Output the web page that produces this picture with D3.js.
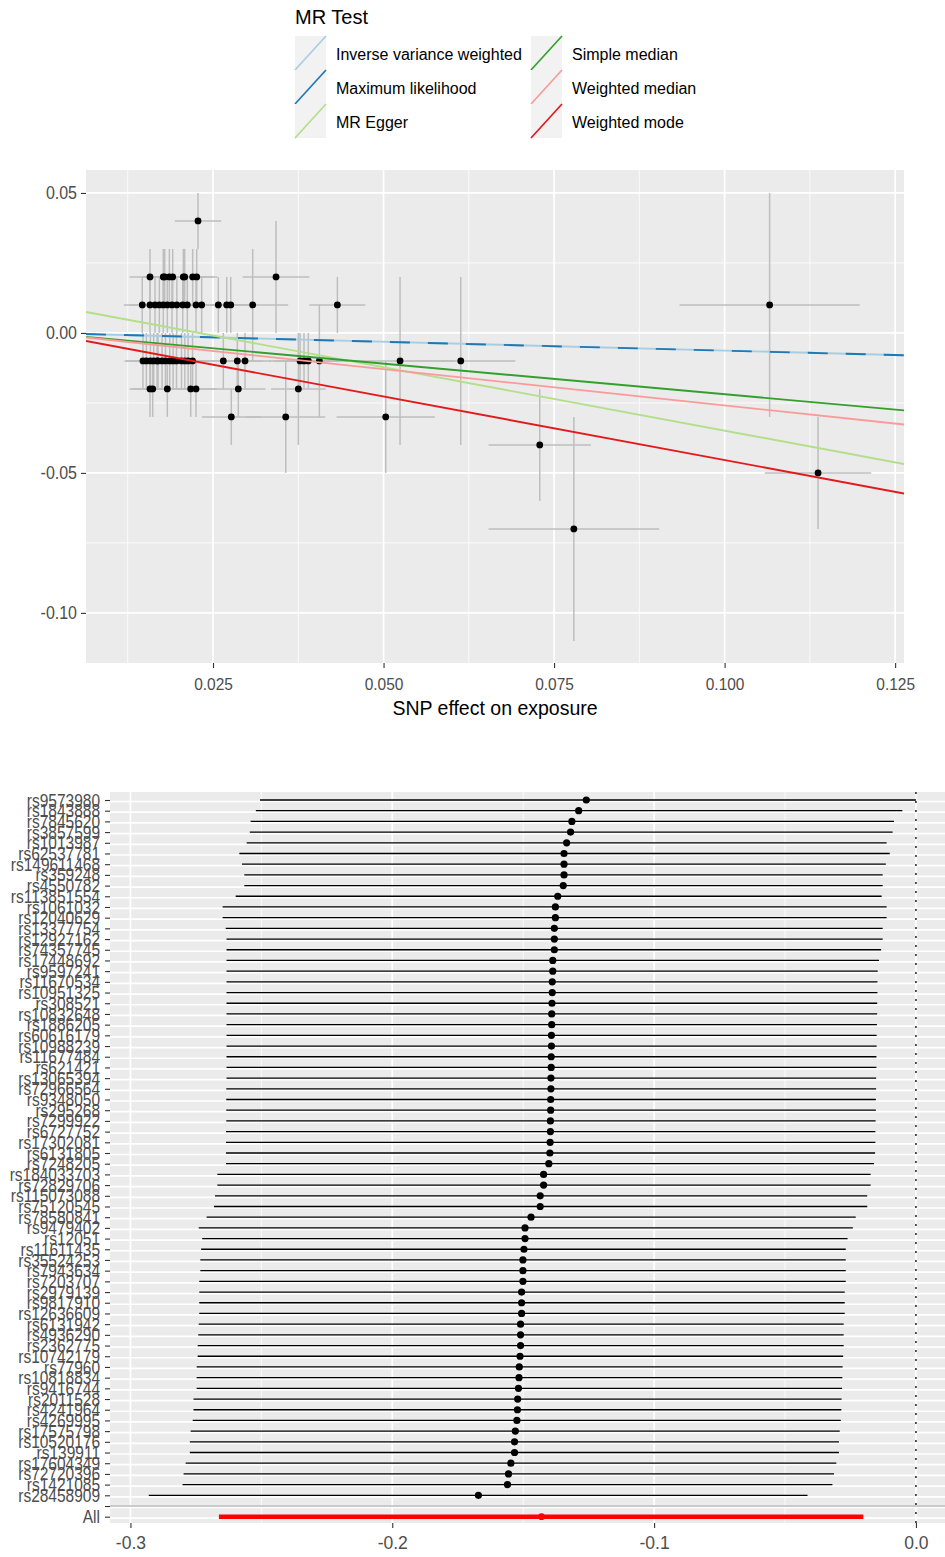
<!DOCTYPE html>
<html><head><meta charset="utf-8">
<script src="https://cdn.jsdelivr.net/npm/d3@7"></script>
<style>
body{margin:0;background:#fff}
svg{display:block}
text{font-family:"Liberation Sans",Arial,sans-serif}
</style>
</head><body>
<svg id="c" width="945" height="1557"></svg>
<script>
// ---------- Scatter plot data (MR Test) ----------
const methods = ["Inverse variance weighted","Maximum likelihood","MR Egger","Simple median","Weighted median","Weighted mode"];
const methodSlopes = [-0.0630, -0.0633, -0.453, -0.219, -0.259, -0.454];
const methodIntercepts = [0, 0, 0.0104, 0, 0, 0];
const methodColors = ["#a6cee3","#1f78b4","#b2df8a","#33a02c","#fb9a99","#e31a1c"];

const exposureBeta = [0.0228,
 0.01576,0.01771,0.01792,0.01909,0.02065,0.02085,0.02202,0.02261,0.03424,
 0.01463,0.01576,0.0165,0.01713,0.01771,0.0183,0.01899,0.02056,0.02123,0.02251,0.02334,0.02578,0.02701,0.0276,0.03082,0.04323,0.1066,
 0.01473,0.01523,0.01582,0.0163,0.01694,0.01753,0.01803,0.01866,0.01915,0.01965,0.02038,0.02087,0.02135,0.022,0.02651,0.02856,0.02969,0.03776,0.03834,0.03897,0.04059,0.05242,0.06132,
 0.01576,0.01616,0.0183,0.02173,0.02251,0.02871,0.03751,
 0.02768,0.03566,0.05032,0.0729,0.1137,0.0779,
 0.0168,0.0197,0.0186];
const outcomeBeta = [0.04,
 0.02,0.02,0.02,0.02,0.02,0.02,0.02,0.02,0.02,
 0.01,0.01,0.01,0.01,0.01,0.01,0.01,0.01,0.01,0.01,0.01,0.01,0.01,0.01,0.01,0.01,0.01,
 -0.01,-0.01,-0.01,-0.01,-0.01,-0.01,-0.01,-0.01,-0.01,-0.01,-0.01,-0.01,-0.01,-0.01,-0.01,-0.01,-0.01,-0.01,-0.01,-0.01,-0.01,-0.01,-0.01,
 -0.02,-0.02,-0.02,-0.02,-0.02,-0.02,-0.02,
 -0.03,-0.03,-0.03,-0.04,-0.05,-0.07,
 -0.01,0.01,0.02];
const exposureSe = [0.0034,
 0.003,0.003,0.003,0.003,0.003,0.003,0.003,0.003,0.0049,
 0.0027,0.003,0.003,0.003,0.003,0.003,0.003,0.003,0.003,0.0032,0.0032,0.0035,0.0035,0.0035,0.0052,0.0041,0.0132,
 0.0027,0.003,0.003,0.003,0.003,0.003,0.003,0.003,0.003,0.003,0.003,0.003,0.003,0.003,0.0035,0.0038,0.0038,0.0045,0.0045,0.0045,0.0048,0.008,0.008,
 0.003,0.003,0.003,0.003,0.003,0.004,0.004,
 0.0043,0.0058,0.0072,0.0075,0.0078,0.0125,
 0.003,0.003,0.003];
const outcomeSe = [0.01,
 0.01,0.01,0.01,0.01,0.01,0.01,0.01,0.01,0.02,
 0.01,0.01,0.01,0.01,0.01,0.01,0.01,0.01,0.01,0.01,0.01,0.01,0.01,0.01,0.02,0.01,0.04,
 0.01,0.01,0.01,0.01,0.01,0.01,0.01,0.01,0.01,0.01,0.01,0.01,0.01,0.01,0.01,0.01,0.01,0.01,0.01,0.01,0.02,0.03,0.03,
 0.01,0.01,0.01,0.01,0.01,0.01,0.02,
 0.01,0.02,0.02,0.02,0.02,0.04,
 0.01,0.01,0.01];
const scatterXTicks = [0.025,0.050,0.075,0.100,0.125];
const scatterXTickLabels = ["0.025","0.050","0.075","0.100","0.125"];
const scatterYTicks = [0.05,0.00,-0.05,-0.10];
const scatterYTickLabels = ["0.05","0.00","-0.05","-0.10"];
const scatterXMinor = [0.0125,0.0375,0.0625,0.0875,0.1125];
const scatterYMinor = [0.025,-0.025,-0.075];

// ---------- Leave-one-out forest data ----------
const snps = ["rs9573980","rs1843888","rs7845620","rs3857599","rs1013987","rs62537781","rs149611468","rs359248","rs4550782","rs113851554",
 "rs1061032","rs12040629","rs13377754","rs12927162","rs74357745","rs17448692","rs9597241","rs11670534","rs10951325","rs308521",
 "rs10832648","rs1886205","rs60616179","rs10988239","rs11677484","rs621421","rs13065394","rs72966564","rs9348050","rs295268",
 "rs7299922","rs6727752","rs17302081","rs6131805","rs7248205","rs184033703","rs72829706","rs115073088","rs75120545","rs78580841",
 "rs9479402","rs12051","rs11611435","rs35524253","rs7943634","rs7203707","rs2979139","rs9817910","rs12636609","rs6131942",
 "rs4936290","rs2362775","rs10742179","rs77960","rs10818834","rs9416744","rs2011528","rs4241964","rs4269995","rs17575798",
 "rs10520176","rs139911","rs17604349","rs72720396","rs1421085","rs28458909"];
const looB = [-0.1259,-0.1288,-0.1314,-0.1319,-0.1334,-0.1344,-0.1344,-0.1344,-0.1347,-0.1368,
 -0.1377,-0.1377,-0.1381,-0.1381,-0.1381,-0.1387,-0.1387,-0.1389,-0.1389,-0.1390,
 -0.1391,-0.1391,-0.1392,-0.1392,-0.1393,-0.1393,-0.1394,-0.1394,-0.1395,-0.1395,
 -0.1396,-0.1396,-0.1397,-0.1398,-0.1402,-0.1422,-0.1422,-0.1435,-0.1435,-0.1470,
 -0.1493,-0.1493,-0.1497,-0.1501,-0.1501,-0.1501,-0.1506,-0.1506,-0.1506,-0.1510,
 -0.1510,-0.1510,-0.1512,-0.1515,-0.1516,-0.1518,-0.1521,-0.1522,-0.1524,-0.1530,
 -0.1533,-0.1533,-0.1547,-0.1556,-0.1560,-0.1671];
const looLo = [-0.2505,-0.2521,-0.2541,-0.2544,-0.2556,-0.2584,-0.2574,-0.2565,-0.2565,-0.2598,
 -0.2648,-0.2648,-0.2636,-0.2633,-0.2633,-0.2633,-0.2633,-0.2633,-0.2633,-0.2633,
 -0.2633,-0.2633,-0.2633,-0.2633,-0.2633,-0.2633,-0.2633,-0.2634,-0.2634,-0.2634,
 -0.2634,-0.2635,-0.2635,-0.2635,-0.2635,-0.2668,-0.2668,-0.2677,-0.2681,-0.2709,
 -0.2739,-0.2726,-0.2730,-0.2733,-0.2733,-0.2737,-0.2737,-0.2737,-0.2737,-0.2739,
 -0.2741,-0.2743,-0.2743,-0.2747,-0.2747,-0.2747,-0.2759,-0.2759,-0.2762,-0.2770,
 -0.2773,-0.2773,-0.2789,-0.2797,-0.2801,-0.2930];
const looHi = [0.0000,-0.0052,-0.0084,-0.0089,-0.0112,-0.0100,-0.0115,-0.0127,-0.0127,-0.0131,
 -0.0112,-0.0112,-0.0127,-0.0127,-0.0133,-0.0141,-0.0146,-0.0147,-0.0147,-0.0148,
 -0.0148,-0.0149,-0.0150,-0.0150,-0.0151,-0.0151,-0.0152,-0.0152,-0.0153,-0.0153,
 -0.0154,-0.0155,-0.0155,-0.0156,-0.0160,-0.0173,-0.0173,-0.0186,-0.0186,-0.0230,
 -0.0241,-0.0261,-0.0268,-0.0268,-0.0268,-0.0268,-0.0272,-0.0272,-0.0272,-0.0276,
 -0.0276,-0.0276,-0.0278,-0.0280,-0.0281,-0.0282,-0.0284,-0.0285,-0.0287,-0.0291,
 -0.0294,-0.0294,-0.0304,-0.0313,-0.0319,-0.0414];
const allLabel = "All";
const allB = -0.1430, allLo = -0.2662, allHi = -0.0201;
const forestXTicks = [-0.3,-0.2,-0.1,0.0];
const forestXTickLabels = ["-0.3","-0.2","-0.1","0.0"];
const forestXMinor = [-0.25,-0.15,-0.05];

// ---------- Drawing ----------
const svg = d3.select("#c");
const FONT = '"Liberation Sans", Arial, sans-serif';
const GREY_TXT = "#4d4d4d";
const PANEL = "#ebebeb";

// Legend
const lg = svg.append("g");
lg.append("text").attr("x",295).attr("y",17).attr("dominant-baseline","central")
  .attr("font-size",20).attr("fill","#000").text("MR Test");
methods.forEach((m,i)=>{
  const col = Math.floor(i/3), row = i%3;
  const kx = [295,531][col], ky = 36 + row*34;
  lg.append("rect").attr("x",kx).attr("y",ky).attr("width",31).attr("height",34).attr("fill","#f2f2f2");
  lg.append("line").attr("x1",kx).attr("y1",ky+34).attr("x2",kx+31).attr("y2",ky)
    .attr("stroke",methodColors[i]).attr("stroke-width",1.7);
  lg.append("text").attr("x",kx+41).attr("y",ky+18).attr("dominant-baseline","central")
    .attr("font-size",16).attr("fill","#000").text(m);
});

// Scatter
const sp = {l:86, r:904, t:170, b:663};
const xS = d3.scaleLinear().domain([0.00638, 0.1263]).range([sp.l, sp.r]);
const yS = d3.scaleLinear().domain([0.0582, -0.1179]).range([sp.t, sp.b]);
const g1 = svg.append("g");
g1.append("rect").attr("x",sp.l).attr("y",sp.t).attr("width",sp.r-sp.l).attr("height",sp.b-sp.t).attr("fill",PANEL);
svg.append("defs").append("clipPath").attr("id","clipS").append("rect")
  .attr("x",sp.l).attr("y",sp.t).attr("width",sp.r-sp.l).attr("height",sp.b-sp.t);
scatterXMinor.forEach(v=>g1.append("line").attr("x1",xS(v)).attr("x2",xS(v)).attr("y1",sp.t).attr("y2",sp.b).attr("stroke","#fff").attr("stroke-width",0.8));
scatterYMinor.forEach(v=>g1.append("line").attr("y1",yS(v)).attr("y2",yS(v)).attr("x1",sp.l).attr("x2",sp.r).attr("stroke","#fff").attr("stroke-width",0.8));
scatterXTicks.forEach(v=>g1.append("line").attr("x1",xS(v)).attr("x2",xS(v)).attr("y1",sp.t).attr("y2",sp.b).attr("stroke","#fff").attr("stroke-width",1.7));
scatterYTicks.forEach(v=>g1.append("line").attr("y1",yS(v)).attr("y2",yS(v)).attr("x1",sp.l).attr("x2",sp.r).attr("stroke","#fff").attr("stroke-width",1.7));

const pts = exposureBeta.map((x,i)=>({x, y:outcomeBeta[i], sx:exposureSe[i], sy:outcomeSe[i]}));
const gs = g1.append("g").attr("clip-path","url(#clipS)");
gs.selectAll(".ev").data(pts).join("line")
  .attr("x1",d=>xS(d.x)).attr("x2",d=>xS(d.x)).attr("y1",d=>yS(d.y+d.sy)).attr("y2",d=>yS(d.y-d.sy))
  .attr("stroke","#bebebe").attr("stroke-width",1.5);
gs.selectAll(".eh").data(pts).join("line")
  .attr("x1",d=>xS(d.x-d.sx)).attr("x2",d=>xS(d.x+d.sx)).attr("y1",d=>yS(d.y)).attr("y2",d=>yS(d.y))
  .attr("stroke","#bebebe").attr("stroke-width",1.5);
gs.selectAll(".pt").data(pts).join("circle")
  .attr("cx",d=>xS(d.x)).attr("cy",d=>yS(d.y)).attr("r",3.4).attr("fill","#000");
const [x0,x1] = xS.domain();
methods.forEach((m,i)=>{
  const a = methodIntercepts[i], b = methodSlopes[i];
  gs.append("line").attr("x1",xS(x0)).attr("x2",xS(x1)).attr("y1",yS(a+b*x0)).attr("y2",yS(a+b*x1))
    .attr("stroke",methodColors[i]).attr("stroke-width",1.9)
    .attr("stroke-dasharray", i===1 ? "20,18" : null);
});

function styleAxis(g, size){
  g.attr("font-family",FONT).attr("font-size",size);
  g.select(".domain").remove();
  g.selectAll(".tick line").attr("stroke","#333").attr("stroke-width",1.1);
  g.selectAll(".tick text").attr("fill",GREY_TXT);
}
const axXs = g1.append("g").attr("transform",`translate(0,${sp.b})`)
  .call(d3.axisBottom(xS).tickValues(scatterXTicks).tickFormat((d,i)=>scatterXTickLabels[i]).tickSize(5).tickPadding(8));
styleAxis(axXs, 15.5);
axXs.selectAll(".tick text").attr("transform","scale(1,1.12)");
const axYs = g1.append("g").attr("transform",`translate(${sp.l},0)`)
  .call(d3.axisLeft(yS).tickValues(scatterYTicks).tickFormat((d,i)=>scatterYTickLabels[i]).tickSize(5).tickPadding(4));
styleAxis(axYs, 16);
axYs.selectAll(".tick text").attr("transform","scale(1,1.12)");
g1.append("text").attr("x",(sp.l+sp.r)/2).attr("y",708).attr("text-anchor","middle").attr("dominant-baseline","central")
  .attr("font-size",19.5).attr("fill","#000").text("SNP effect on exposure");

// Forest
const fp = {l:110, r:945, t:792, b:1523};
const xF = d3.scaleLinear().domain([-0.3078, 0.0111]).range([fp.l, fp.r]);
const cats = snps.concat(["", allLabel]);
const yF = d3.scalePoint().domain(cats).range([800, 1516.7]);
const g2 = svg.append("g");
g2.append("rect").attr("x",fp.l).attr("y",fp.t).attr("width",fp.r-fp.l).attr("height",fp.b-fp.t).attr("fill",PANEL);
forestXMinor.forEach(v=>g2.append("line").attr("x1",xF(v)).attr("x2",xF(v)).attr("y1",fp.t).attr("y2",fp.b).attr("stroke","#fff").attr("stroke-width",0.8));
forestXTicks.forEach(v=>g2.append("line").attr("x1",xF(v)).attr("x2",xF(v)).attr("y1",fp.t).attr("y2",fp.b).attr("stroke","#fff").attr("stroke-width",1.7));
cats.forEach(c=>g2.append("line").attr("x1",fp.l).attr("x2",fp.r).attr("y1",yF(c)+1.5).attr("y2",yF(c)+1.5).attr("stroke","#fff").attr("stroke-width",1.7));
// dotted zero line
g2.append("line").attr("x1",xF(0)).attr("x2",xF(0)).attr("y1",fp.t).attr("y2",fp.b)
  .attr("stroke","#000").attr("stroke-width",1.3).attr("stroke-dasharray","2,7");
const rows = snps.map((s,i)=>({s, b:looB[i], lo:looLo[i], hi:looHi[i]}));
g2.selectAll(".seg").data(rows).join("line")
  .attr("x1",d=>xF(d.lo)).attr("x2",d=>xF(d.hi)).attr("y1",d=>yF(d.s)).attr("y2",d=>yF(d.s))
  .attr("stroke","#000").attr("stroke-width",1.3);
g2.selectAll(".dot").data(rows).join("circle")
  .attr("cx",d=>xF(d.b)).attr("cy",d=>yF(d.s)).attr("r",3.6).attr("fill","#000");
g2.append("line").attr("x1",xF(allLo)).attr("x2",xF(allHi)).attr("y1",yF(allLabel)).attr("y2",yF(allLabel))
  .attr("stroke","#ff0000").attr("stroke-width",4.5);
g2.append("circle").attr("cx",xF(allB)).attr("cy",yF(allLabel)).attr("r",3.4).attr("fill","#ff0000");
g2.append("line").attr("x1",fp.l).attr("x2",fp.r).attr("y1",yF("")).attr("y2",yF(""))
  .attr("stroke","#bebebe").attr("stroke-width",1.6);

const axXf = g2.append("g").attr("transform",`translate(0,${fp.b})`)
  .call(d3.axisBottom(xF).tickValues(forestXTicks).tickFormat((d,i)=>forestXTickLabels[i]).tickSize(5).tickPadding(9));
styleAxis(axXf, 17.5);
const axYf = g2.append("g").attr("transform",`translate(${fp.l},0)`)
  .call(d3.axisLeft(yF).tickSize(5).tickPadding(5));
styleAxis(axYf, 15.5);
axYf.selectAll(".tick text").attr("transform","scale(1,1.22)");
</script>
</body></html>
